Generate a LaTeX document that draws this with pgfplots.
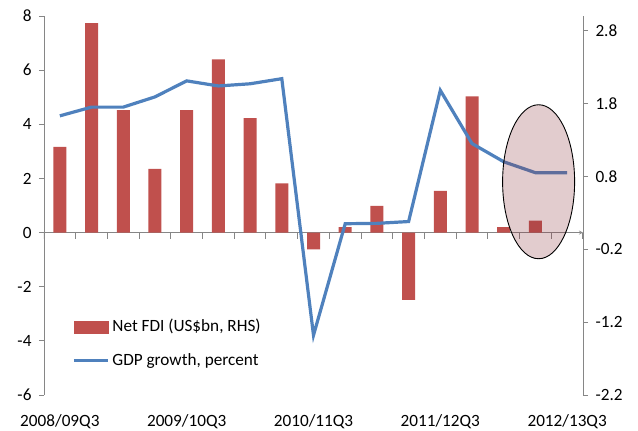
\documentclass[border=0pt]{standalone}
\usepackage{pgfplots}
\pgfplotsset{compat=1.18}
\usepackage{fontspec}
\setmainfont{Carlito}
\definecolor{fdired}{RGB}{192,80,77}
\definecolor{gdpblue}{RGB}{79,129,189}
\definecolor{axgrey}{RGB}{134,134,134}
\definecolor{ellfill}{RGB}{140,50,60}
\begin{document}
\begin{tikzpicture}
\pgfplotsset{
  every axis/.append style={
    width=539bp, height=379bp, scale only axis,
    xmin=-0.5, xmax=16.5,
    font=\fontsize{17.2bp}{20bp}\selectfont,
    axis line style={axgrey, line width=0.8bp, -},
    tick style={axgrey, line width=0.8bp},
    major tick length=5bp,
    tick align=outside,
  },
}
\begin{axis}[
  name=ax1,
  ymin=-6, ymax=8,
  ytick={-6,-4,-2,0,2,4,6,8},
  yticklabels={-6,-4,-2,0,2,4,6,8},
  yticklabel style={xshift=-4bp},
  axis y line*=left,
  axis x line=middle,
  xtick=\empty,
  ybar, bar width=13bp,
]
\addplot[fill=fdired, draw=none] coordinates {
(0,3.17) (1,7.74) (2,4.52) (3,2.35) (4,4.52) (5,6.40) (6,4.23) (7,1.82)
(8,-0.62) (9,0.20) (10,0.99) (11,-2.49) (12,1.54) (13,5.03) (14,0.20) (15,0.44)
};
\end{axis}
\begin{axis}[
  at={(ax1.south west)}, anchor=south west,
  ymin=-2.2, ymax=3.0,
  ytick={-2.2,-1.2,-0.2,0.8,1.8,2.8},
  yticklabels={-2.2,-1.2,-0.2,0.8,1.8,2.8},
  yticklabel style={xshift=4bp},
  axis y line*=right,
  axis x line*=bottom,
  x axis line style={draw=none},
  xtick={0,4,8,12,16},
  xticklabels={2008/09Q3,2009/10Q3,2010/11Q3,2011/12Q3,2012/13Q3},
  xticklabel style={yshift=-11bp},
  x tick style={draw=none},
  unbounded coords=jump,
  legend cell align=left,
  legend style={draw=none, fill=none, at={(0.052,0.203)}, anchor=north west,
    inner sep=0pt, row sep=17bp,
    nodes={inner sep=1bp, text height=12bp, text depth=3bp},
    /tikz/every odd column/.style={column sep=2bp}},
]
% category separator ticks hanging below the zero line of the bar axis
\addplot[axgrey, line width=1.1bp, mark=none, forget plot] coordinates {
(-0.5,0.0286) (-0.5,-0.054) (-0.5,nan)
(0.5,0.0286) (0.5,-0.054) (0.5,nan)
(1.5,0.0286) (1.5,-0.054) (1.5,nan)
(2.5,0.0286) (2.5,-0.054) (2.5,nan)
(3.5,0.0286) (3.5,-0.054) (3.5,nan)
(4.5,0.0286) (4.5,-0.054) (4.5,nan)
(5.5,0.0286) (5.5,-0.054) (5.5,nan)
(6.5,0.0286) (6.5,-0.054) (6.5,nan)
(7.5,0.0286) (7.5,-0.054) (7.5,nan)
(8.5,0.0286) (8.5,-0.054) (8.5,nan)
(9.5,0.0286) (9.5,-0.054) (9.5,nan)
(10.5,0.0286) (10.5,-0.054) (10.5,nan)
(11.5,0.0286) (11.5,-0.054) (11.5,nan)
(12.5,0.0286) (12.5,-0.054) (12.5,nan)
(13.5,0.0286) (13.5,-0.054) (13.5,nan)
(14.5,0.0286) (14.5,-0.054) (14.5,nan)
(15.5,0.0286) (15.5,-0.054) (15.5,nan)
(16.5,0.0286) (16.5,-0.054)
};
\addlegendimage{legend image code/.code={\fill[fdired] (0bp,-6bp) rectangle (34bp,6bp);}}
\addlegendentry{Net FDI (US\$bn, RHS)}
\addplot[gdpblue, line width=3.2bp, mark=none,
  legend image code/.code={\draw[gdpblue, line width=3.2bp] (0bp,0bp) -- (34bp,0bp);}] coordinates {
(0,1.63) (1,1.75) (2,1.75) (3,1.89) (4,2.11) (5,2.04) (6,2.07) (7,2.14)
(8,-1.38) (9,0.15) (10,0.155) (11,0.18) (12,1.98) (13,1.25) (14,1.0) (15,0.85) (16,0.85)
};
\addlegendentry{GDP growth, percent}
\draw[black, line width=0.9bp, fill=ellfill, fill opacity=0.25] (axis cs:15.1,0.726) ellipse [x radius=36bp, y radius=77bp];
\end{axis}
\pgfresetboundingbox
\path ([shift={(-44bp,-36bp)}]ax1.south west) rectangle ([shift={(55bp,16bp)}]ax1.north east);
\end{tikzpicture}
\end{document}
